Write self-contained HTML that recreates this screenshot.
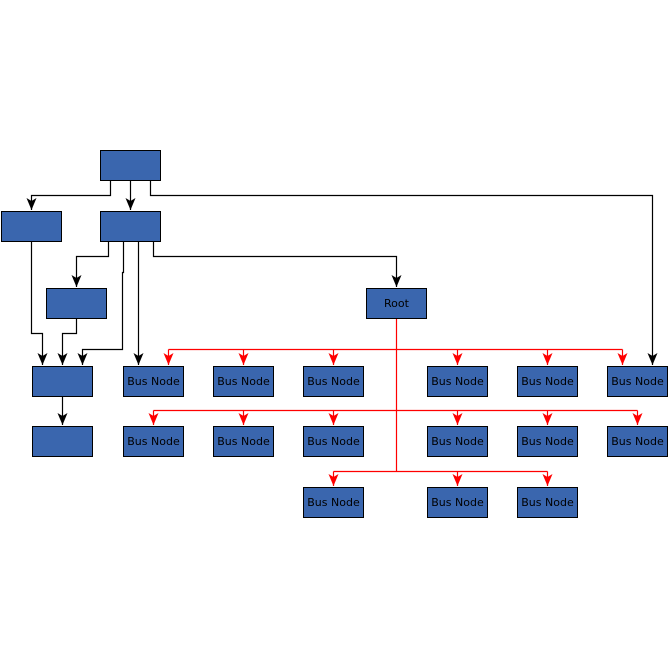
<!DOCTYPE html>
<html><head><style>body{margin:0;background:#fff}svg{display:block}</style></head><body>
<svg width="668" height="668" xmlns="http://www.w3.org/2000/svg" font-family="'DejaVu Sans','Liberation Sans',sans-serif">
<defs>
<marker id="ab" viewBox="0 0 10 12" refX="5" refY="12" markerWidth="10" markerHeight="12" markerUnits="userSpaceOnUse"><path d="M0,0 L5,3 L10,0 L5,12 Z" fill="#000"/></marker>
<marker id="ar" viewBox="0 0 10 12" refX="5" refY="12" markerWidth="10" markerHeight="12" markerUnits="userSpaceOnUse"><path d="M0,0 L5,3 L10,0 L5,12 Z" fill="#f00"/></marker>
</defs>
<g fill="none" stroke="#000" stroke-width="1.2">
<path d="M110.5,180 V195.5 H31.5 V210" marker-end="url(#ab)"/>
<path d="M130.5,180 V210" marker-end="url(#ab)"/>
<path d="M150.5,180 V195.5 H652.5 V365" marker-end="url(#ab)"/>
<path d="M108.5,241 V256.5 H76.5 V287" marker-end="url(#ab)"/>
<path d="M123.5,241 V272.5 H122.5 V349.5 H82.5 V365" marker-end="url(#ab)"/>
<path d="M138.5,241 V365" marker-end="url(#ab)"/>
<path d="M153.5,241 V256.5 H396.5 V287" marker-end="url(#ab)"/>
<path d="M31.5,241 V333.5 H42.5 V365" marker-end="url(#ab)"/>
<path d="M76.5,318 V333.5 H62.5 V365" marker-end="url(#ab)"/>
<path d="M62.5,396 V425" marker-end="url(#ab)"/>
</g>
<g fill="none" stroke="#f00" stroke-width="1.2">
<path d="M396.5,318 V471.5"/>
<path d="M168.5,349.5 H622.5"/>
<path d="M153.5,410.5 H637.5"/>
<path d="M333.5,471.5 H547.5"/>
<g marker-end="url(#ar)">
<path d="M168.5,349.5 V365"/><path d="M243.5,349.5 V365"/><path d="M333.5,349.5 V365"/><path d="M457.5,349.5 V365"/><path d="M547.5,349.5 V365"/><path d="M622.5,349.5 V365"/>
<path d="M153.5,410.5 V425"/><path d="M243.5,410.5 V425"/><path d="M333.5,410.5 V425"/><path d="M457.5,410.5 V425"/><path d="M547.5,410.5 V425"/><path d="M637.5,410.5 V425"/>
<path d="M333.5,471.5 V486"/><path d="M457.5,471.5 V486"/><path d="M547.5,471.5 V486"/>
</g>
</g>
<g fill="#3a66ae" stroke="#000" stroke-width="1">
<rect x="100.5" y="150.5" width="60" height="30"/>
<rect x="1.5" y="211.5" width="60" height="30"/>
<rect x="100.5" y="211.5" width="60" height="30"/>
<rect x="46.5" y="288.5" width="60" height="30"/>
<rect x="366.5" y="288.5" width="60" height="30"/>
<rect x="32.5" y="366.5" width="60" height="30"/>
<rect x="32.5" y="426.5" width="60" height="30"/>
<rect x="123.5" y="366.5" width="60" height="30"/><rect x="213.5" y="366.5" width="60" height="30"/><rect x="303.5" y="366.5" width="60" height="30"/><rect x="427.5" y="366.5" width="60" height="30"/><rect x="517.5" y="366.5" width="60" height="30"/><rect x="607.5" y="366.5" width="60" height="30"/>
<rect x="123.5" y="426.5" width="60" height="30"/><rect x="213.5" y="426.5" width="60" height="30"/><rect x="303.5" y="426.5" width="60" height="30"/><rect x="427.5" y="426.5" width="60" height="30"/><rect x="517.5" y="426.5" width="60" height="30"/><rect x="607.5" y="426.5" width="60" height="30"/>
<rect x="303.5" y="487.5" width="60" height="30"/><rect x="427.5" y="487.5" width="60" height="30"/><rect x="517.5" y="487.5" width="60" height="30"/>
</g>
<g font-size="11" fill="#000" text-anchor="middle">
<text x="396.5" y="307">Root</text>
<text x="153.5" y="385">Bus Node</text><text x="243.5" y="385">Bus Node</text><text x="333.5" y="385">Bus Node</text><text x="457.5" y="385">Bus Node</text><text x="547.5" y="385">Bus Node</text><text x="637.5" y="385">Bus Node</text>
<text x="153.5" y="445">Bus Node</text><text x="243.5" y="445">Bus Node</text><text x="333.5" y="445">Bus Node</text><text x="457.5" y="445">Bus Node</text><text x="547.5" y="445">Bus Node</text><text x="637.5" y="445">Bus Node</text>
<text x="333.5" y="506">Bus Node</text><text x="457.5" y="506">Bus Node</text><text x="547.5" y="506">Bus Node</text>
</g>
</svg>
</body></html>
